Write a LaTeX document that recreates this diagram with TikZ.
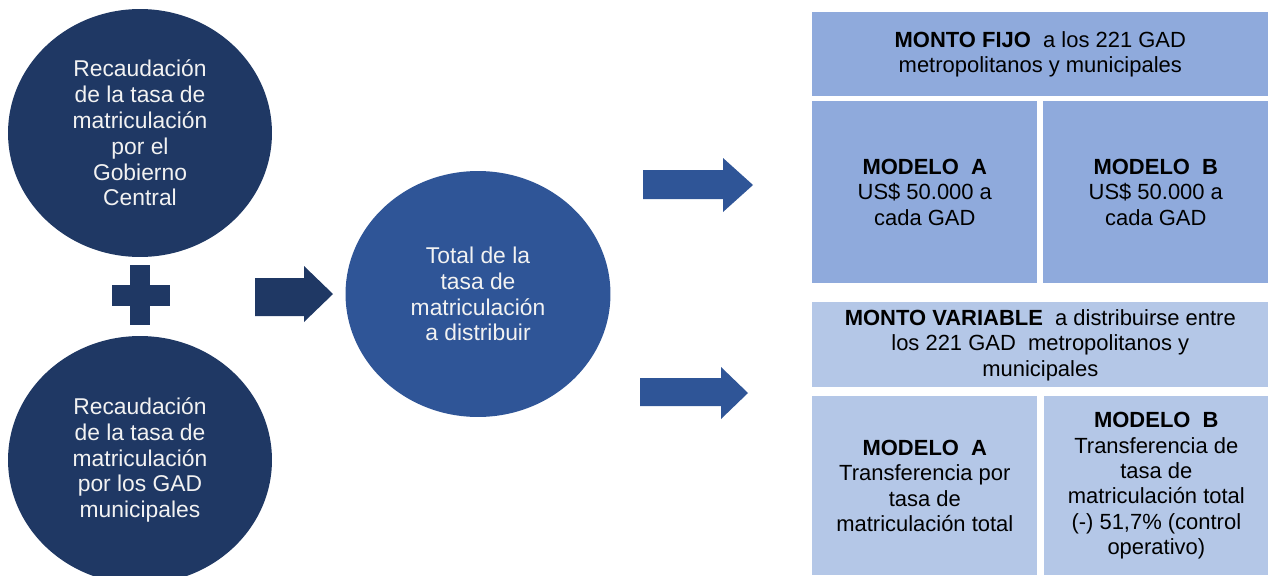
\documentclass[tikz,border=0pt]{standalone}
\usepackage{fontspec}
\setmainfont{Liberation Sans}
\usetikzlibrary{shapes.geometric}
\definecolor{azuloscuro}{HTML}{1F3864}
\definecolor{azulmedio}{HTML}{2F5597}
\definecolor{azulfijo}{HTML}{8FAADC}
\definecolor{azulvariable}{HTML}{B4C7E7}
\definecolor{textoclaro}{HTML}{F2F2F2}

\begin{document}
\begin{tikzpicture}[x=0.02cm,y=-0.02cm,
  circulo/.style={ellipse,inner sep=0pt,minimum width=5.28cm,minimum height=4.96cm,
    text=textoclaro,align=center,font=\fontsize{13}{14.7}\selectfont},
  caja/.style={rectangle,inner sep=0pt,align=center,anchor=north west,
    font=\fontsize{12.5}{14.5}\selectfont},
  ancha/.style={caja,minimum width=9.12cm,minimum height=1.68cm},
  modelo/.style={caja,minimum width=4.5cm,minimum height=3.64cm}]
\useasboundingbox (0,0) rectangle (1268,575);
\clip (0,0) rectangle (1268,575);

% circulos de recaudacion
\node[circulo,fill=azuloscuro] (gobierno) at (140,133)
  {Recaudación\\de la tasa de\\matriculación\\por el\\Gobierno\\Central};
\node[circulo,fill=azuloscuro] (municipios) at (140,460)
  {Recaudación\\de la tasa de\\matriculación\\por los GAD\\municipales};
\fill[azuloscuro] (130,265) rectangle (150,325);
\fill[azuloscuro] (112,285) rectangle (170,306);

\fill[azuloscuro] (255,278) -- (304,278) -- (304,266) -- (333,294) -- (304,322)
  -- (304,316) -- (255,316) -- cycle;

\node[circulo,fill=azulmedio,minimum width=5.3cm,minimum height=4.92cm] (total) at (478,294)
  {Total de la\\tasa de\\matriculación\\a distribuir};

% flechas hacia los montos
\fill[azulmedio] (643,170) -- (723,170) -- (723,158) -- (753,185) -- (723,212)
  -- (723,199) -- (643,199) -- cycle;
\fill[azulmedio] (640,378) -- (721,378) -- (721,367) -- (748,393) -- (721,419)
  -- (721,406) -- (640,406) -- cycle;

% monto fijo
\node[ancha,fill=azulfijo] (fijo) at (812,12)
  {\textbf{MONTO FIJO}\ \ a los 221 GAD\\metropolitanos y municipales};
\node[modelo,fill=azulfijo] (fijoA) at (812,101)
  {\textbf{MODELO\ \ A}\\US\$ 50.000 a\\cada GAD};
\node[modelo,fill=azulfijo] (fijoB) at (1043,101)
  {\textbf{MODELO\ \ B}\\US\$ 50.000 a\\cada GAD};

% monto variable
\node[ancha,fill=azulvariable,minimum height=1.7cm] (variable) at (812,302)
  {\textbf{MONTO VARIABLE}\ \ a distribuirse entre\\los 221 GAD\ \ metropolitanos y\\municipales};
\node[modelo,fill=azulvariable,minimum height=3.58cm] (variableA) at (812,396)
  {\textbf{MODELO\ \ A}\\Transferencia por\\tasa de\\matriculación total};
\node[modelo,fill=azulvariable,minimum width=4.48cm,minimum height=3.58cm] (variableB) at (1044,396)
  {\textbf{MODELO\ \ B}\\Transferencia de\\tasa de\\matriculación total\\(-) 51,7\% (control\\operativo)};
\end{tikzpicture}
\end{document}
